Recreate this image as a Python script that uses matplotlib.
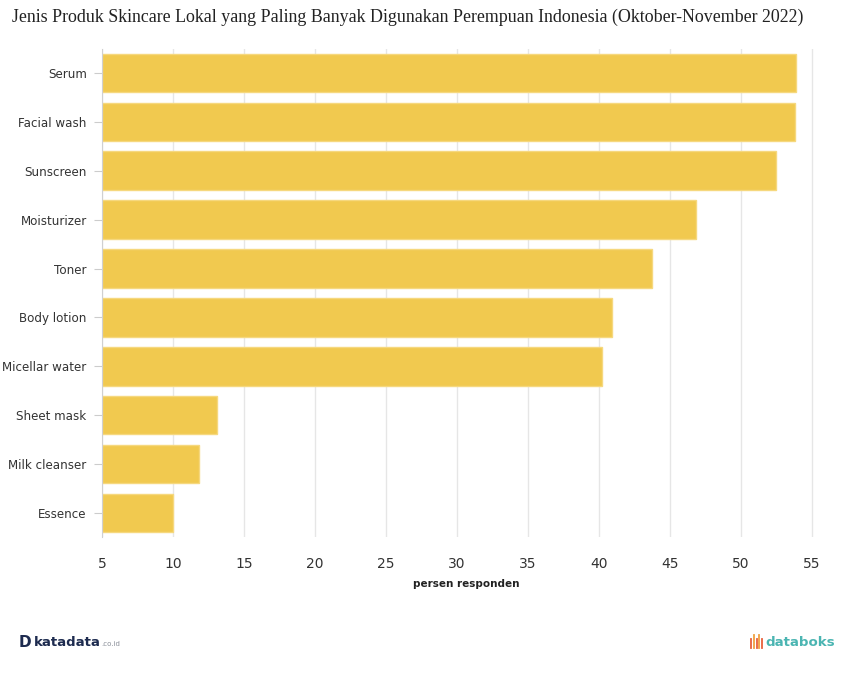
import matplotlib.pyplot as plt
from matplotlib.lines import Line2D

# data
produk = ['Serum', 'Facial wash', 'Sunscreen', 'Moisturizer', 'Toner', 'Body lotion',
          'Micellar water', 'Sheet mask', 'Milk cleanser', 'Essence']
persen = [53.9, 53.8, 52.5, 46.8, 43.7, 40.9, 40.2, 13.1, 11.8, 10.0]
xticks = [5, 10, 15, 20, 25, 30, 35, 40, 45, 50, 55]

fig = plt.figure(figsize=(8.5, 6.95), dpi=100)
ax = fig.add_axes([0.12, 0.227, 0.857, 0.703])

pos = list(range(len(produk)))[::-1]
ax.barh(pos, [p - 5 for p in persen], left=5, height=0.79,
        color='#F1C94F', edgecolor='#F6D87E', linewidth=1, zorder=2)

ax.set_xlim(5, 56.3)
ax.set_ylim(-0.5, len(produk) - 0.5)
ax.set_xticks(xticks)
ax.set_yticks(pos)
ax.set_yticklabels(produk)
ax.grid(axis='x', color='#e6e6e6', linewidth=1, zorder=0)

for s in ['top', 'right', 'bottom']:
    ax.spines[s].set_visible(False)
ax.spines['left'].set_color('#d0d0d0')
ax.tick_params(axis='y', length=6, color='#cccccc', labelsize=8.6, labelcolor='#333333', pad=5)
ax.tick_params(axis='x', length=0, labelsize=10, labelcolor='#333333', pad=14)

ax.set_xlabel('persen responden', fontsize=7.5, fontweight='bold', color='#222222', labelpad=6)

fig.text(0.014, 0.975, 'Jenis Produk Skincare Lokal yang Paling Banyak Digunakan Perempuan Indonesia (Oktober-November 2022)',
         family='Liberation Serif', fontsize=12.9, color='#222222', va='center', ha='left')

# logos
fig.text(0.022, 0.075, 'D', fontsize=11, fontweight='bold', color='#1d2b4f', va='center')
fig.text(0.040, 0.075, 'katadata', fontsize=9.5, fontweight='bold', color='#1d2b4f', va='center')
fig.text(0.119, 0.073, '.co.id', fontsize=5, color='#8a8f99', va='center')

for i, c in enumerate(['#e8603c', '#f0a040', '#e8603c', '#f0a040', '#e8603c']):
    x = 0.883 + i * 0.0035
    h = 0.012 if i % 2 == 0 else 0.018
    fig.add_artist(Line2D([x, x], [0.068, 0.068 + h], color=c, linewidth=1.3))
fig.text(0.901, 0.076, 'databoks', fontsize=9.6, fontweight='bold', color='#4bb5b2', va='center')

fig.savefig('out.png', dpi=100, facecolor='white')
